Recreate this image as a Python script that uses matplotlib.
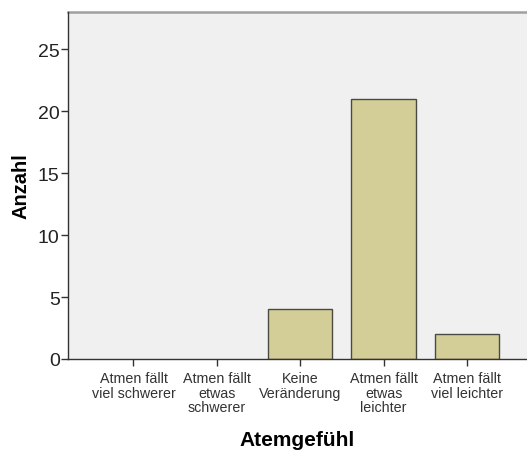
import matplotlib
matplotlib.use("Agg")
import matplotlib.pyplot as plt

categories = ["Atmen fällt\nviel schwerer", "Atmen fällt\netwas\nschwerer", "Keine\nVeränderung",
              "Atmen fällt\netwas\nleichter", "Atmen fällt\nviel leichter"]
counts = [0, 0, 4, 21, 2]
yticks = [0, 5, 10, 15, 20, 25]

plt.rcParams['font.family'] = ['Liberation Sans', 'DejaVu Sans']

fig = plt.figure(figsize=(5.27, 4.52), dpi=100)
fig.patch.set_facecolor('white')
ax = fig.add_axes([68/527, 1-360/452, 1-68/527, (360-13)/452])
ax.set_facecolor('#F0F0F0')

x = list(range(len(categories)))
edge_widths = [1.0 if c > 0 else 0.0 for c in counts]
ax.bar(x, counts, width=0.77, color='#D3CE97', edgecolor='#4A4A40',
       linewidth=edge_widths, zorder=2)

ax.set_xlim(-0.785, 4.72)
ax.set_ylim(0, 28)
ax.set_yticks(yticks)
ax.set_yticklabels([str(v) for v in yticks], fontsize=14, color='#222222')
ax.set_xticks(x)
ax.set_xticklabels(categories, fontsize=10.3, color='#333333', linespacing=1.04)

ax.tick_params(axis='y', direction='out', length=5, width=1, color='#333333', pad=1)
ax.tick_params(axis='x', direction='out', length=5, width=1, color='#333333', pad=4)

for s in ['left', 'bottom']:
    ax.spines[s].set_color('#333333')
    ax.spines[s].set_linewidth(1.0)
    ax.spines[s].set_zorder(3)
ax.spines['top'].set_color('#A0A0A0')
ax.spines['top'].set_linewidth(1.8)
ax.spines['right'].set_visible(False)

ax.set_xlabel('Atemgefühl', fontsize=15, fontweight='bold', labelpad=11)
ax.set_ylabel('Anzahl', fontsize=14.5, fontweight='bold', labelpad=5)

fig.savefig('out.png', dpi=100)
